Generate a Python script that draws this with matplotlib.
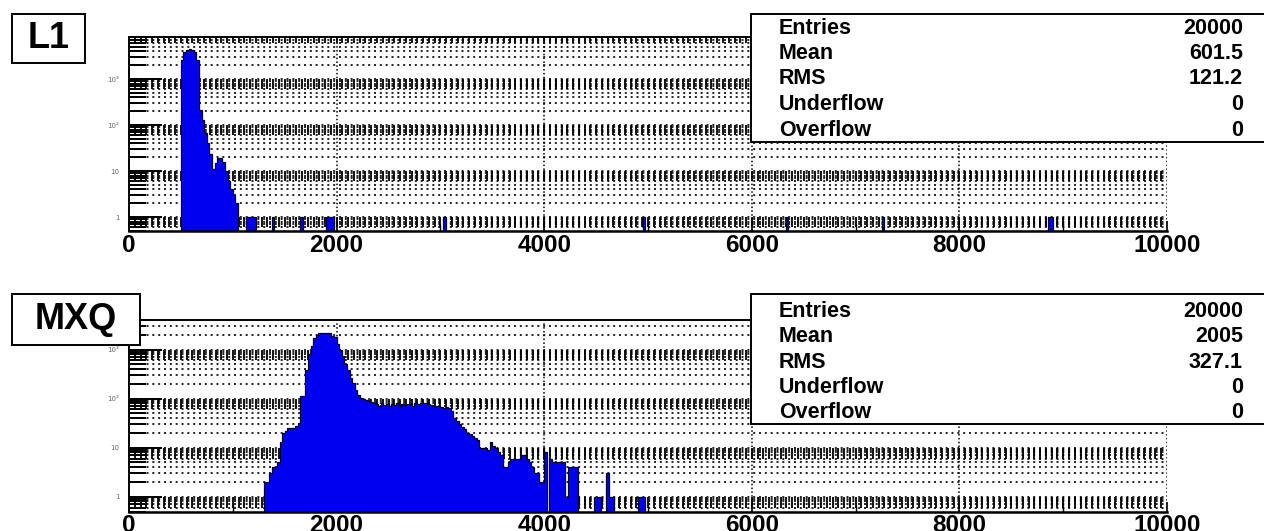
import numpy as np
import matplotlib
matplotlib.use("Agg")
import matplotlib.pyplot as plt
from matplotlib.patches import Rectangle
from matplotlib.ticker import LogLocator, NullFormatter, FixedLocator

# histogram binning (25 units per bin, 0..10000)
bin_width = 25
x_max = 10000

# L1 counts, contiguous bins starting at l1_start
l1_start = 500
l1_counts = [2580, 3900, 4270, 4400, 4270, 3900, 2580, 211, 129, 66, 40, 24,
             11, 15, 19, 19, 16, 10, 6, 4, 3, 2]
# isolated single-entry bins (lower edge)
l1_ones = [1125, 1150, 1175, 1200, 1375, 1650, 1900, 1925, 1950, 3025, 4950,
           6325, 7250, 8850, 8875]

# MXQ counts, contiguous bins starting at mxq_start
mxq_start = 1300
mxq_counts = [2, 2, 3, 4, 4, 5, 13, 20, 22, 25, 25, 25, 28, 32, 111, 111,
              390, 800, 1170, 1730, 2000, 2150, 2200, 2200, 2200, 2150, 1900,
              1800, 1300, 1000, 730, 500, 390, 260, 210, 150, 120, 105, 100,
              95, 88, 85, 82,
              78, 72, 80, 74, 76, 70, 78, 74, 80, 72, 76, 74, 78, 76, 72, 80,
              76, 82,
              80, 80, 78, 75, 72, 72, 70, 66, 64, 66, 64, 55, 40, 35, 30, 27,
              24, 20, 19, 17, 16, 14, 10, 10, 10, 9, 13, 11, 10, 8, 7, 4, 4,
              5, 6, 6, 6, 6, 7, 7, 6, 5, 4, 3, 3, 2, 2, 8, 0, 6, 5, 5, 5, 5,
              5, 1, 4, 4, 4, 4, 0, 0, 0, 0, 0, 0, 1, 1, 1, 0, 0, 3, 1, 1]
mxq_ones = [4900, 4925, 4950]

titles = ["L1", "MXQ"]
stat_names = ["Entries", "Mean", "RMS", "Underflow", "Overflow"]
l1_stats = ["20000", "601.5", "121.2", "0", "0"]
mxq_stats = ["20000", "2005", "327.1", "0", "0"]

x_ticks = [0, 2000, 4000, 6000, 8000, 10000]
y_ticks = [1, 10, 100, 1000]
y_tick_labels = ["1", "10", "10\u00b2", "10\u00b3"]


def full_hist(start, counts, ones):
    arr = np.zeros(x_max // bin_width)
    i0 = start // bin_width
    arr[i0:i0 + len(counts)] = counts
    for v in ones:
        arr[v // bin_width] = 1
    return arr


W, H = 1264, 531
fig = plt.figure(figsize=(W / 100, H / 100), dpi=100)
fig.patch.set_facecolor("white")

edges = np.arange(0, x_max + bin_width, bin_width)
font = "Liberation Sans"


def setup_axes(ax, hist, ylim):
    ymin, ymax = ylim
    ax.set_yscale("log")
    ax.set_xlim(0, x_max)
    ax.set_ylim(ymin, ymax)

    # horizontal dotted grid at every log tick
    for n in range(-1, 5):
        for k in range(1, 10):
            y = k * 10.0 ** n
            if ymin < y < ymax:
                ax.axhline(y, color="k", lw=1.2, ls=(0, (1.2, 2.3)), zorder=1)
    # dense vertical dashes just below each decade
    xs = np.arange(1, 180) * (x_max / 180)
    for n in range(-1, 4):
        lo = max(6 * 10.0 ** n, ymin)
        hi = min(10.0 ** (n + 1), ymax)
        if lo < hi:
            ax.vlines(xs, lo, hi, colors="k", lw=1.3, zorder=1)
    # major vertical grid
    for xv in x_ticks[1:]:
        ax.axvline(xv, color="k", lw=1.1, ls=(0, (1, 1.5)), zorder=1)

    vals = np.where(hist > 0, hist, ymin)
    ax.stairs(vals, edges, baseline=ymin, fill=True, color="#0000f0", zorder=2)
    ax.stairs(vals, edges, baseline=ymin, fill=False, color="#00002a", lw=0.9,
              zorder=3)

    ax.spines["right"].set_visible(False)
    for s in ["left", "top", "bottom"]:
        ax.spines[s].set_linewidth(1.4)
    ax.spines["bottom"].set_linewidth(1.8)

    ax.set_xticks(x_ticks)
    ax.set_xticklabels([str(t) for t in x_ticks], fontsize=17.5,
                       fontweight="bold", fontfamily=font)
    ax.xaxis.set_minor_locator(FixedLocator(np.arange(1000, x_max, 2000)))
    ax.tick_params(axis="x", which="major", direction="in", length=7,
                   width=1.2, pad=2, top=False)
    ax.tick_params(axis="x", which="minor", direction="in", length=5,
                   width=1.0, top=False)

    ax.set_yticks(y_ticks)
    ax.set_yticklabels(y_tick_labels, fontsize=5, color="#666666")
    ax.yaxis.set_minor_locator(LogLocator(base=10, subs=np.arange(2, 10)))
    ax.yaxis.set_minor_formatter(NullFormatter())
    ax.tick_params(axis="y", which="major", direction="in", length=24,
                   width=1.4, pad=7, right=False)
    ax.tick_params(axis="y", which="minor", direction="in", length=12,
                   width=1.4, right=False)


ax1 = fig.add_axes([129 / W, 1 - 231 / H, 1038 / W, 194 / H])
ax2 = fig.add_axes([129 / W, 1 - 511.5 / H, 1038 / W, 191.5 / H])

setup_axes(ax1, full_hist(l1_start, l1_counts, l1_ones), (0.5, 8200))
setup_axes(ax2, full_hist(mxq_start, mxq_counts, mxq_ones), (0.5, 4000))


def px_rect(x0, y0, x1, y1):
    return Rectangle((x0 / W, 1 - y1 / H), (x1 - x0) / W, (y1 - y0) / H,
                     transform=fig.transFigure, facecolor="white",
                     edgecolor="black", lw=1.4, zorder=10, clip_on=False)


# title boxes
for title, box, center in [
        ("L1", (12, 14, 85, 62.5), (48.5, 38.5)),
        ("MXQ", (12, 294, 140, 345), (76, 319.5))]:
    fig.add_artist(px_rect(*box))
    fig.text(center[0] / W, 1 - center[1] / H, title, fontsize=26,
             fontweight="bold", fontfamily=font, ha="center", va="center",
             zorder=11)

# stats boxes
for stats, box, baselines in [
        (l1_stats, (751, 14, 1275, 141.5), [33.5, 59, 84.5, 110, 135.5]),
        (mxq_stats, (751, 294, 1275, 424), [317, 342, 367.5, 393, 418.5])]:
    fig.add_artist(px_rect(*box))
    for name, val, yb in zip(stat_names, stats, baselines):
        fig.text(779 / W, 1 - yb / H, name, fontsize=15.5, fontweight="bold",
                 fontfamily=font, ha="left", va="baseline", zorder=11)
        fig.text(1243 / W, 1 - yb / H, val, fontsize=15.5, fontweight="bold",
                 fontfamily=font, ha="right", va="baseline", zorder=11)

fig.savefig("out.png", dpi=100)
